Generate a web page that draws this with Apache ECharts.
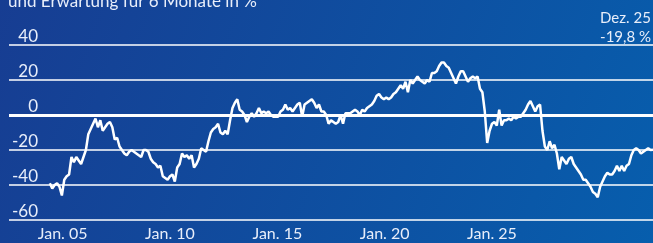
<!DOCTYPE html>
<html>
<head>
<meta charset="utf-8">
<script src="https://cdn.jsdelivr.net/npm/echarts@6/dist/echarts.min.js"></script>
<style>
  html, body { margin: 0; padding: 0; }
  #chart { width: 653px; height: 243px; }
</style>
</head>
<body>
<div id="chart"></div>
<script>
// monthly values, Jan. 2005 to Dez. 2025 (one row per year)
var values = [
  -39, -42, -40, -39, -41, -46, -37, -35, -34, -24, -27, -24,
  -26, -28, -24, -20, -11, -8, -5, -2, -7, -3, -9, -7,
  -5, -4, -7, -14, -13, -18, -20, -22, -23, -21, -20, -21,
  -22, -23, -24, -20, -20, -21, -25, -27, -28, -30, -29, -35,
  -36, -37, -35, -34, -38, -30, -28, -22, -24, -23, -25, -23,
  -30, -28, -25, -19, -20, -21, -15, -10, -8, -7, -5, -10,
  -11, -9, -11, -3, 4, 7, 9, 3, 2, 0, -4, -1,
  1, -1, 1, 4, 1, 2, 1, 2, 0, -1, -1, -1,
  2, 3, 6, 3, 4, 2, 4, 6, 7, -1, 6, 7,
  8, 9, 7, 4, 6, 2, 2, 0, -5, -3, -4, -5,
  -4, 0, -5, 1, 1, 1, 2, 3, 2, 0, 3, 2,
  4, 5, 6, 8, 11, 12, 10, 9, 10, 9, 10, 12,
  13, 15, 17, 15, 19, 13, 20, 18, 20, 22, 20, 19,
  18, 20, 19, 24, 24, 25, 28, 30, 30, 28, 27, 24,
  21, 18, 22, 25, 25, 22, 19, 21, 22, 21, 22, 15,
  13, 2, -16, -9, -5, -4, -6, 3, -6, -3, -3, -2,
  -3, -1, -2, -1, -1, 1, 3, 6, 8, 5, 2, 5,
  6, -9, -18, -20, -15, -19, -17, -22, -31, -24, -26, -28,
  -25, -24, -28, -30, -32, -34, -37, -37, -39, -41, -44, -45,
  -47, -41, -38, -35, -33, -34, -34, -32, -29, -32, -29, -32,
  -29, -28, -23, -20, -19, -20, -22, -21, -20, -19, -20, -19.8
];
var xLabels = ["Jan. 05", "Jan. 10", "Jan. 15", "Jan. 20", "Jan. 25", ""];
var subtitle = "und Erwartung für 6 Monate in %";
var lastLabel = "Dez. 25";
var lastValue = "-19,8 %";

var font = "Lato, 'Noto Sans', sans-serif";
var chart = echarts.init(document.getElementById("chart"));

var seriesData = [];
for (var i = 0; i < values.length; i++) {
  seriesData.push([i, values[i]]);
}

var option = {
  backgroundColor: new echarts.graphic.LinearGradient(0, 0, 1, 1, [
    { offset: 0, color: "#173d92" },
    { offset: 1, color: "#075ead" }
  ]),
  animation: false,
  graphic: [
    {
      type: "text",
      left: 8,
      top: -7,
      style: { text: subtitle, font: "17px " + font, fill: "#e8eefa" }
    },
    {
      type: "text",
      right: 2,
      top: 9,
      style: {
        text: lastLabel + "\n" + lastValue,
        font: "15px " + font,
        fill: "#e8eefa",
        align: "right",
        lineHeight: 19
      }
    }
  ],
  grid: {
    left: 9,
    right: 0,
    top: 45,
    bottom: 23
  },
  xAxis: [
    {
      type: "value",
      min: -17,
      max: 251,
      show: false
    },
    {
      type: "category",
      data: xLabels,
      boundaryGap: true,
      position: "bottom",
      axisLine: { show: false },
      axisTick: { show: false },
      splitLine: { show: false },
      axisLabel: {
        color: "#e8eefa",
        fontFamily: font,
        fontSize: 16,
        margin: 6
      }
    }
  ],
  yAxis: {
    type: "value",
    min: -60,
    max: 40,
    interval: 20,
    axisLine: { show: false },
    axisTick: { show: false },
    splitLine: {
      lineStyle: { color: "#ffffff", width: 1.5 }
    },
    axisLabel: {
      inside: true,
      align: "right",
      verticalAlign: "bottom",
      margin: 29,
      color: "#e8eefa",
      fontFamily: font,
      fontSize: 17
    }
  },
  series: [
    {
      type: "line",
      xAxisIndex: 0,
      data: seriesData,
      showSymbol: false,
      lineStyle: { color: "#ffffff", width: 2.5 },
      markLine: {
        silent: true,
        symbol: "none",
        label: { show: false },
        lineStyle: { color: "#ffffff", width: 3, type: "solid" },
        data: [{ yAxis: 0 }]
      },
      z: 3
    }
  ]
};

chart.setOption(option);
</script>
</body>
</html>
